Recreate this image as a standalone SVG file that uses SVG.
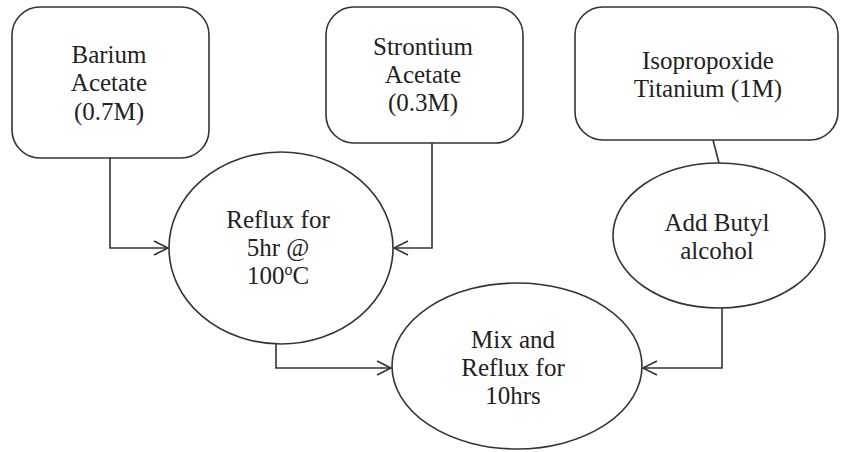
<svg xmlns="http://www.w3.org/2000/svg" width="841" height="452" viewBox="0 0 841 452">
<style>
.node{fill:#fff;stroke:#333;stroke-width:1.6}
text{font-family:'Liberation Serif','Times New Roman',Times,Tinos,'Noto Serif','DejaVu Serif',FreeSerif,serif;font-size:25px;fill:#222;text-anchor:middle}
.c{fill:none;stroke:#333;stroke-width:1.6}
</style>
<defs>
<marker id="arr" markerUnits="userSpaceOnUse" markerWidth="20" markerHeight="20" refX="15" refY="8" orient="auto">
<polyline points="1,1 15,8 1,15" fill="none" stroke="#333" stroke-width="1.6"/>
</marker>
</defs>
<rect width="841" height="452" fill="#fff"/>
<g id="connectors">
<polyline class="c" points="110,158 110,248 168,248" marker-end="url(#arr)"/>
<polyline class="c" points="432,143 432,248 394,248" marker-end="url(#arr)"/>
<polyline class="c" points="276,344 276,368 391,368" marker-end="url(#arr)"/>
<polyline class="c" points="722,308 722,368 643,368" marker-end="url(#arr)"/>
<line class="c" x1="713" y1="140" x2="719" y2="163"/>
</g>
<g id="barium">
<rect class="node" x="12" y="7" width="197" height="151" rx="28"/>
<text x="109" y="63">Barium</text>
<text x="109" y="91">Acetate</text>
<text x="109" y="120">(0.7M)</text>
</g>
<g id="strontium">
<rect class="node" x="326" y="7" width="197" height="136" rx="28"/>
<text x="423" y="55">Strontium</text>
<text x="423" y="83">Acetate</text>
<text x="423" y="111">(0.3M)</text>
</g>
<g id="titanium">
<rect class="node" x="575" y="7" width="263" height="133" rx="28"/>
<text x="708" y="69">Isopropoxide</text>
<text x="708" y="97">Titanium (1M)</text>
</g>
<g id="reflux">
<ellipse class="node" cx="281" cy="248" rx="112" ry="96"/>
<text x="278" y="228">Reflux for</text>
<text x="278" y="256">5hr @</text>
<text x="278" y="284">100<tspan font-size="16" dy="-9">o</tspan><tspan dy="9">C</tspan></text>
</g>
<g id="butyl">
<ellipse class="node" cx="719" cy="235.5" rx="106" ry="72.5"/>
<text x="717" y="231">Add Butyl</text>
<text x="717" y="259">alcohol</text>
</g>
<g id="mix">
<ellipse class="node" cx="517" cy="366" rx="125" ry="83"/>
<text x="513" y="348">Mix and</text>
<text x="513" y="376">Reflux for</text>
<text x="513" y="404">10hrs</text>
</g>
</svg>
